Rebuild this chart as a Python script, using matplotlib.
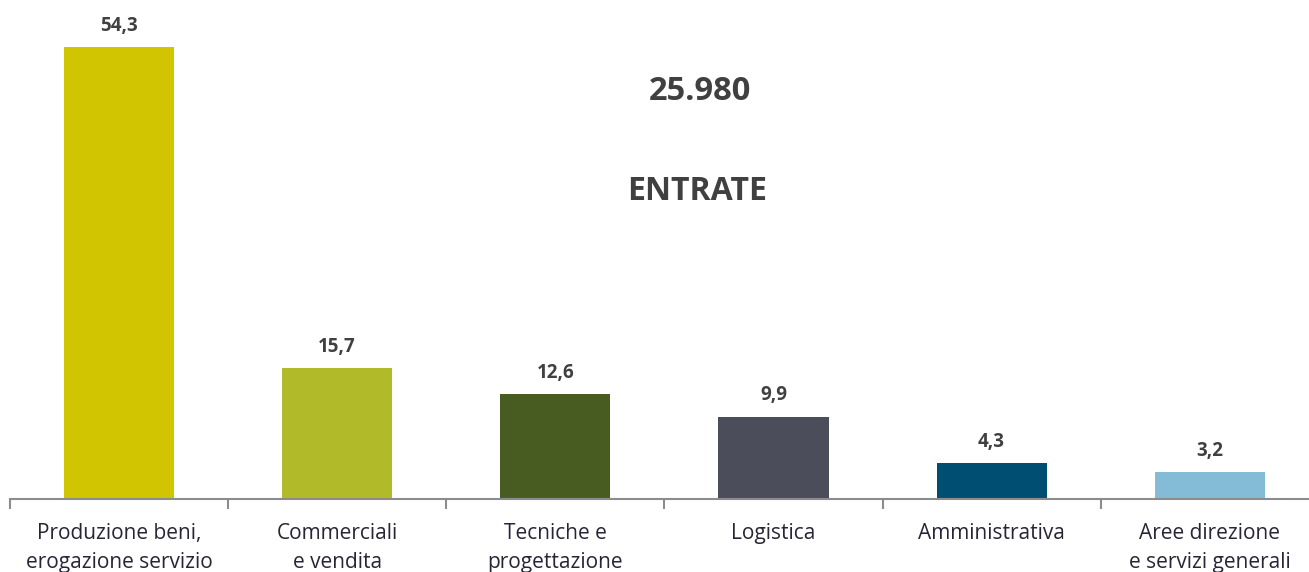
import matplotlib.pyplot as plt
import numpy as np

categories = ["Produzione beni,\nerogazione servizio", "Commerciali\ne vendita",
              "Tecniche e\nprogettazione", "Logistica", "Amministrativa",
              "Aree direzione\ne servizi generali"]
values = [54.3, 15.7, 12.6, 9.9, 4.3, 3.2]
value_labels = ["54,3", "15,7", "12,6", "9,9", "4,3", "3,2"]
colors = ["#D0C500", "#B1BB2A", "#485C22", "#4B4D5B", "#004F73", "#84BCD8"]
total_label = "25.980"
title_label = "ENTRATE"

plt.rcParams['font.family'] = ['Open Sans', 'DejaVu Sans']

W, H = 1309, 572
fig = plt.figure(figsize=(W/100, H/100), dpi=100)
left = 10 / W
bottom = 73 / H
width = (1318.8 - 10) / W
height = 499 / H
ax = fig.add_axes([left, bottom, width, height])

x = np.arange(len(categories))
ax.bar(x, values, width=0.505, color=colors, zorder=2)
for xi, v, lab in zip(x, values, value_labels):
    ax.annotate(lab, (xi, v), xytext=(0, 15.5), textcoords='offset points',
                ha='center', va='center', fontsize=13.5, fontweight='bold', color='#404040')

ax.set_xlim(-0.5, 5.5)
ax.set_ylim(0, 60)
for s in ['top', 'right', 'left']:
    ax.spines[s].set_visible(False)
ax.spines['bottom'].set_color('#8C8C8C')
ax.spines['bottom'].set_linewidth(1.5)
ax.set_yticks([])
ax.set_xticks(x)
ax.set_xticklabels(categories, fontsize=15, color='#262636', linespacing=1.5)
ax.tick_params(axis='x', which='major', length=0, pad=17)
ax.set_xticks(np.arange(-0.5, 6.0, 1.0), minor=True)
ax.tick_params(axis='x', which='minor', length=7, width=1.5, color='#8C8C8C')

fig.text(700 / W, 1 - 92 / H, total_label, ha='center', va='center',
         fontsize=23.5, fontweight='bold', color='#404040')
fig.text(697 / W, 1 - 191 / H, title_label, ha='center', va='center',
         fontsize=23, fontweight='bold', color='#404040')

fig.savefig('out.png', dpi=100)
